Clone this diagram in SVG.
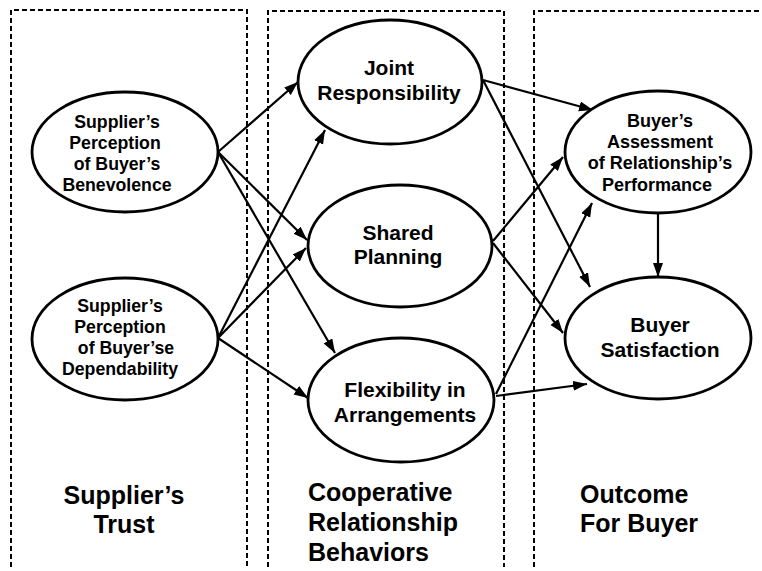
<svg xmlns="http://www.w3.org/2000/svg" width="762" height="571" viewBox="0 0 762 571">
  <style>
    .frame { fill: none; stroke: #000; stroke-width: 2; stroke-dasharray: 5 3; }
    .node ellipse { fill: #fff; stroke: #000; stroke-width: 2.8; }
    text { font-family: "Liberation Sans", Arial, sans-serif; font-weight: bold; fill: #000; }
    .small { font-size: 17.7px; text-anchor: middle; }
    .mid { font-size: 21px; text-anchor: middle; }
    .head { font-size: 25px; }
    .edges line { stroke: #000; stroke-width: 2.2; marker-end: url(#arrow); }
  </style>
  <defs>
    <marker id="arrow" markerUnits="userSpaceOnUse" markerWidth="15" markerHeight="11" refX="14" refY="5" orient="auto">
      <path d="M0,0 L14,5 L0,10 z" fill="#000"/>
    </marker>
  </defs>
  <rect width="762" height="571" fill="#fff"/>

  <!-- column frames (open at the bottom) -->
  <g id="frames">
    <path class="frame" d="M11,567 V10 H247 V567"/>
    <path class="frame" d="M268,567 V11 H504 V567"/>
    <path class="frame" d="M534,567 V11 H762"/>
  </g>

  <!-- column headings -->
  <g id="headings">
    <text class="head" text-anchor="middle"><tspan x="124" y="504">Supplier’s</tspan><tspan x="124" y="533">Trust</tspan></text>
    <text class="head"><tspan x="308" y="501">Cooperative</tspan><tspan x="308" y="531">Relationship</tspan><tspan x="308" y="561">Behaviors</tspan></text>
    <text class="head"><tspan x="580" y="503">Outcome</tspan><tspan x="580" y="532">For Buyer</tspan></text>
  </g>

  <!-- connectors -->
  <g class="edges" id="edges">
    <line x1="218" y1="152" x2="298" y2="82"/>
    <line x1="218" y1="152" x2="307" y2="240"/>
    <line x1="218" y1="152" x2="335" y2="353"/>
    <line x1="218" y1="338" x2="325" y2="130"/>
    <line x1="218" y1="338" x2="306" y2="248"/>
    <line x1="218" y1="338" x2="308" y2="398"/>
    <line x1="483" y1="80" x2="593" y2="110"/>
    <line x1="483" y1="80" x2="590" y2="287"/>
    <line x1="493" y1="241" x2="563" y2="157"/>
    <line x1="493" y1="243" x2="563" y2="333"/>
    <line x1="496" y1="394" x2="592" y2="203"/>
    <line x1="496" y1="396" x2="587" y2="384"/>
    <line x1="658" y1="213" x2="658" y2="277"/>
  </g>

  <!-- nodes -->
  <g class="node" id="benevolence">
    <ellipse cx="125" cy="152" rx="93" ry="60"/>
    <text class="small"><tspan x="117" y="128">Supplier’s</tspan><tspan x="115" y="149">Perception</tspan><tspan x="117" y="170">of Buyer’s</tspan><tspan x="117" y="191">Benevolence</tspan></text>
  </g>
  <g class="node" id="dependability">
    <ellipse cx="125" cy="339" rx="93" ry="61"/>
    <text class="small"><tspan x="120" y="312">Supplier’s</tspan><tspan x="120" y="333">Perception</tspan><tspan x="126" y="354">of Buyer’se</tspan><tspan x="120" y="375">Dependability</tspan></text>
  </g>
  <g class="node" id="joint">
    <ellipse cx="390" cy="82" rx="92" ry="62"/>
    <text class="mid"><tspan x="389" y="75">Joint</tspan><tspan x="389" y="100">Responsibility</tspan></text>
  </g>
  <g class="node" id="shared">
    <ellipse cx="400" cy="246" rx="92" ry="61"/>
    <text class="mid"><tspan x="398" y="240">Shared</tspan><tspan x="398" y="264">Planning</tspan></text>
  </g>
  <g class="node" id="flexibility">
    <ellipse cx="401" cy="400" rx="93" ry="62"/>
    <text class="mid"><tspan x="405" y="397">Flexibility in</tspan><tspan x="405" y="422">Arrangements</tspan></text>
  </g>
  <g class="node" id="assessment">
    <ellipse cx="658" cy="152" rx="93" ry="61"/>
    <text class="small" style="font-size:18px"><tspan x="660" y="127">Buyer’s</tspan><tspan x="660" y="148">Assessment</tspan><tspan x="660" y="169">of Relationship’s</tspan><tspan x="657" y="191">Performance</tspan></text>
  </g>
  <g class="node" id="satisfaction">
    <ellipse cx="658" cy="338" rx="93" ry="61"/>
    <text class="mid"><tspan x="660" y="332">Buyer</tspan><tspan x="660" y="357">Satisfaction</tspan></text>
  </g>
</svg>
